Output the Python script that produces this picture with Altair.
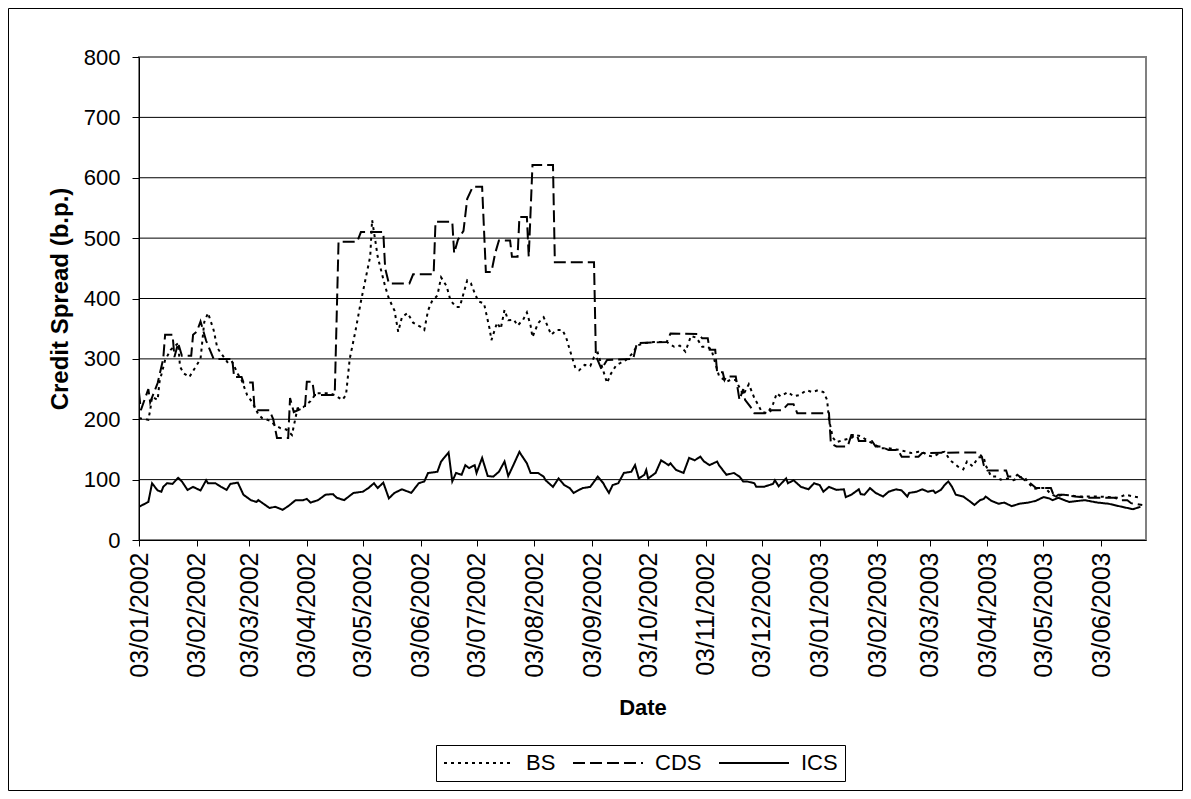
import altair as alt
import pandas as pd

# ---------------- data ----------------
series_names = ["BS", "CDS", "ICS"]

bs_dates = [
    "2002-01-03", "2002-01-08", "2002-01-09", "2002-01-10", "2002-01-13", "2002-01-14", "2002-01-17", "2002-01-20", "2002-01-24", "2002-01-25",
    "2002-01-27", "2002-01-30", "2002-02-03", "2002-02-05", "2002-02-07", "2002-02-09", "2002-02-12", "2002-02-14", "2002-02-17", "2002-02-20",
    "2002-02-22", "2002-02-25", "2002-02-27", "2002-03-02", "2002-03-05", "2002-03-08", "2002-03-10", "2002-03-14", "2002-03-17", "2002-03-20",
    "2002-03-23", "2002-03-26", "2002-03-29", "2002-04-01", "2002-04-05", "2002-04-08", "2002-04-15", "2002-04-18", "2002-04-22", "2002-04-24",
    "2002-04-26", "2002-04-29", "2002-05-02", "2002-05-05", "2002-05-07", "2002-05-08", "2002-05-10", "2002-05-11", "2002-05-15", "2002-05-17",
    "2002-05-20", "2002-05-22", "2002-05-24", "2002-05-27", "2002-05-30", "2002-06-03", "2002-06-05", "2002-06-07", "2002-06-09", "2002-06-12",
    "2002-06-14", "2002-06-17", "2002-06-19", "2002-06-22", "2002-06-24", "2002-06-28", "2002-06-30", "2002-07-02", "2002-07-04", "2002-07-07",
    "2002-07-10", "2002-07-11", "2002-07-14", "2002-07-16", "2002-07-18", "2002-07-20", "2002-07-23", "2002-07-25", "2002-07-28", "2002-07-30",
    "2002-08-01", "2002-08-02", "2002-08-05", "2002-08-08", "2002-08-10", "2002-08-12", "2002-08-15", "2002-08-18", "2002-08-20", "2002-08-22",
    "2002-08-25", "2002-08-27", "2002-08-30", "2002-09-02", "2002-09-04", "2002-09-06", "2002-09-08", "2002-09-11", "2002-09-13", "2002-09-16",
    "2002-09-18", "2002-09-21", "2002-09-25", "2002-09-27", "2002-10-01", "2002-10-06", "2002-10-13", "2002-10-17", "2002-10-20", "2002-10-23",
    "2002-10-26", "2002-10-29", "2002-11-01", "2002-11-04", "2002-11-06", "2002-11-08", "2002-11-10", "2002-11-14", "2002-11-16", "2002-11-19",
    "2002-11-23", "2002-11-26", "2002-11-29", "2002-12-01", "2002-12-03", "2002-12-06", "2002-12-09", "2002-12-11", "2002-12-13", "2002-12-17",
    "2002-12-20", "2002-12-23", "2002-12-27", "2002-12-30", "2003-01-02", "2003-01-05", "2003-01-07", "2003-01-08", "2003-01-10", "2003-01-12",
    "2003-01-15", "2003-01-20", "2003-01-22", "2003-01-25", "2003-01-28", "2003-02-02", "2003-02-05", "2003-02-09", "2003-02-13", "2003-02-15",
    "2003-02-19", "2003-02-21", "2003-02-25", "2003-02-27", "2003-03-02", "2003-03-05", "2003-03-09", "2003-03-11", "2003-03-14", "2003-03-18",
    "2003-03-21", "2003-03-23", "2003-03-26", "2003-03-29", "2003-04-01", "2003-04-02", "2003-04-05", "2003-04-08", "2003-04-10", "2003-04-14",
    "2003-04-17", "2003-04-20", "2003-04-23", "2003-04-25", "2003-04-28", "2003-05-02", "2003-05-04", "2003-05-07", "2003-05-10", "2003-05-13",
    "2003-05-17", "2003-05-22", "2003-05-31", "2003-06-08", "2003-06-12", "2003-06-16", "2003-06-19", "2003-06-24",
]
bs_values = [
    202, 199, 215, 237, 232, 262, 298, 315, 326, 287,
    276, 270, 290, 300, 361, 376, 348, 318, 305, 292,
    295, 275, 265, 240, 227, 208, 202, 198, 190, 185,
    183, 174, 218, 220, 230, 243, 243, 240, 232, 240,
    300, 345, 395, 440, 470, 530, 490, 469, 420, 400,
    380, 345, 369, 376, 360, 353, 348, 380, 395, 405,
    435, 420, 397, 386, 386, 430, 425, 409, 395, 392,
    350, 331, 360, 350, 381, 364, 365, 355, 365, 377,
    355, 336, 359, 369, 355, 340, 348, 348, 336, 315,
    285, 281, 290, 288, 303, 310, 290, 260, 275, 290,
    293, 298, 310, 322, 326, 328, 328, 320, 322, 312,
    338, 335, 320, 320, 315, 293, 272, 262, 265, 265,
    240, 258, 235, 224, 212, 210, 225, 243, 238, 245,
    238, 240, 248, 245, 248, 245, 232, 200, 170, 162,
    165, 169, 174, 172, 166, 157, 152, 152, 150, 149,
    146, 144, 146, 146, 140, 138, 145, 146, 132, 122,
    117, 130, 122, 137, 137, 124, 105, 105, 100, 102,
    99, 104, 104, 94, 85, 86, 86, 76, 72, 75,
    74, 72, 72, 71, 70, 75, 73, 70,
]

cds_dates = [
    "2002-01-03", "2002-01-04", "2002-01-08", "2002-01-09", "2002-01-13", "2002-01-16", "2002-01-17", "2002-01-21", "2002-01-22", "2002-01-24",
    "2002-01-26", "2002-01-31", "2002-02-01", "2002-02-03", "2002-02-05", "2002-02-08", "2002-02-12", "2002-02-22", "2002-02-23", "2002-02-27",
    "2002-02-28", "2002-03-05", "2002-03-06", "2002-03-14", "2002-03-16", "2002-03-18", "2002-03-24", "2002-03-25", "2002-03-27", "2002-04-02",
    "2002-04-03", "2002-04-06", "2002-04-07", "2002-04-17", "2002-04-18", "2002-04-20", "2002-04-30", "2002-05-02", "2002-05-14", "2002-05-15",
    "2002-05-17", "2002-05-28", "2002-05-30", "2002-06-10", "2002-06-11", "2002-06-20", "2002-06-21", "2002-06-23", "2002-06-26", "2002-06-28",
    "2002-07-01", "2002-07-06", "2002-07-08", "2002-07-11", "2002-07-13", "2002-07-15", "2002-07-21", "2002-07-22", "2002-07-25", "2002-07-26",
    "2002-07-30", "2002-07-31", "2002-08-02", "2002-08-13", "2002-08-14", "2002-09-04", "2002-09-05", "2002-09-08", "2002-09-11", "2002-09-25",
    "2002-09-27", "2002-10-13", "2002-10-15", "2002-10-30", "2002-11-01", "2002-11-04", "2002-11-05", "2002-11-08", "2002-11-09", "2002-11-12",
    "2002-11-13", "2002-11-14", "2002-11-19", "2002-11-21", "2002-11-23", "2002-11-24", "2002-11-27", "2002-11-29", "2002-12-07", "2002-12-08",
    "2002-12-14", "2002-12-17", "2002-12-20", "2002-12-22", "2003-01-08", "2003-01-09", "2003-01-12", "2003-01-18", "2003-01-20", "2003-01-23",
    "2003-01-24", "2003-01-31", "2003-02-02", "2003-02-05", "2003-02-09", "2003-02-14", "2003-02-16", "2003-02-25", "2003-02-27", "2003-03-21",
    "2003-03-29", "2003-03-31", "2003-04-01", "2003-04-03", "2003-04-13", "2003-04-14", "2003-04-18", "2003-04-19", "2003-04-23", "2003-04-26",
    "2003-04-29", "2003-05-07", "2003-05-09", "2003-05-11", "2003-05-14", "2003-05-20", "2003-05-27", "2003-06-10", "2003-06-14", "2003-06-17",
    "2003-06-19", "2003-06-25",
]
cds_values = [
    245, 215, 250, 228, 260, 300, 340, 340, 303, 326,
    305, 305, 340, 345, 362, 330, 300, 300, 270, 270,
    261, 261, 215, 215, 200, 169, 169, 235, 212, 220,
    262, 262, 240, 240, 245, 494, 494, 510, 510, 450,
    425, 425, 440, 440, 527, 527, 475, 497, 512, 565,
    585, 585, 444, 444, 475, 496, 496, 469, 469, 535,
    535, 469, 621, 621, 460, 460, 305, 283, 298, 300,
    326, 328, 342, 341, 334, 334, 315, 315, 278, 278,
    265, 271, 271, 232, 250, 232, 220, 210, 210, 215,
    215, 225, 225, 210, 210, 160, 155, 155, 174, 174,
    164, 164, 155, 155, 149, 149, 138, 138, 144, 145,
    145, 138, 124, 115, 115, 105, 105, 108, 99, 94,
    86, 86, 70, 75, 75, 72, 70, 70, 66, 66,
    61, 58,
]

ics_dates = [
    "2002-01-03", "2002-01-08", "2002-01-10", "2002-01-13", "2002-01-15", "2002-01-16", "2002-01-18", "2002-01-21", "2002-01-24", "2002-01-26",
    "2002-01-29", "2002-02-01", "2002-02-05", "2002-02-08", "2002-02-09", "2002-02-13", "2002-02-16", "2002-02-19", "2002-02-21", "2002-02-25",
    "2002-02-28", "2002-03-04", "2002-03-07", "2002-03-08", "2002-03-14", "2002-03-17", "2002-03-21", "2002-03-24", "2002-03-28", "2002-04-01",
    "2002-04-03", "2002-04-05", "2002-04-09", "2002-04-13", "2002-04-17", "2002-04-19", "2002-04-23", "2002-04-28", "2002-05-03", "2002-05-06",
    "2002-05-09", "2002-05-11", "2002-05-14", "2002-05-17", "2002-05-20", "2002-05-24", "2002-05-29", "2002-06-02", "2002-06-05", "2002-06-07",
    "2002-06-12", "2002-06-14", "2002-06-18", "2002-06-20", "2002-06-22", "2002-06-25", "2002-06-27", "2002-06-29", "2002-07-02", "2002-07-03",
    "2002-07-06", "2002-07-09", "2002-07-12", "2002-07-15", "2002-07-18", "2002-07-20", "2002-07-22", "2002-07-26", "2002-07-27", "2002-07-30",
    "2002-08-01", "2002-08-05", "2002-08-08", "2002-08-09", "2002-08-13", "2002-08-16", "2002-08-19", "2002-08-22", "2002-08-24", "2002-08-27",
    "2002-08-29", "2002-09-02", "2002-09-06", "2002-09-09", "2002-09-10", "2002-09-12", "2002-09-14", "2002-09-17", "2002-09-20", "2002-09-24",
    "2002-09-26", "2002-09-28", "2002-10-01", "2002-10-02", "2002-10-03", "2002-10-07", "2002-10-10", "2002-10-14", "2002-10-15", "2002-10-18",
    "2002-10-22", "2002-10-25", "2002-10-28", "2002-10-31", "2002-11-02", "2002-11-05", "2002-11-09", "2002-11-10", "2002-11-14", "2002-11-18",
    "2002-11-21", "2002-11-23", "2002-11-25", "2002-11-29", "2002-11-30", "2002-12-04", "2002-12-09", "2002-12-10", "2002-12-12", "2002-12-16",
    "2002-12-17", "2002-12-20", "2002-12-24", "2002-12-28", "2002-12-31", "2003-01-03", "2003-01-05", "2003-01-08", "2003-01-12", "2003-01-16",
    "2003-01-17", "2003-01-20", "2003-01-24", "2003-01-25", "2003-01-27", "2003-01-30", "2003-02-02", "2003-02-06", "2003-02-09", "2003-02-13",
    "2003-02-16", "2003-02-19", "2003-02-20", "2003-02-24", "2003-02-27", "2003-03-02", "2003-03-05", "2003-03-06", "2003-03-09", "2003-03-11",
    "2003-03-13", "2003-03-15", "2003-03-17", "2003-03-21", "2003-03-25", "2003-03-27", "2003-03-30", "2003-04-01", "2003-04-02", "2003-04-05",
    "2003-04-09", "2003-04-12", "2003-04-16", "2003-04-20", "2003-04-25", "2003-04-29", "2003-05-03", "2003-05-06", "2003-05-08", "2003-05-11",
    "2003-05-15", "2003-05-17", "2003-05-25", "2003-06-01", "2003-06-07", "2003-06-14", "2003-06-20", "2003-06-24",
]
ics_values = [
    55, 63, 94, 82, 80, 88, 94, 93, 103, 97,
    83, 88, 82, 99, 94, 94, 88, 83, 93, 95,
    75, 66, 63, 66, 53, 55, 50, 56, 66, 66,
    68, 62, 66, 75, 76, 70, 66, 78, 80, 86,
    94, 86, 95, 69, 78, 84, 78, 94, 97, 111,
    113, 130, 145, 97, 111, 108, 124, 119, 124, 111,
    136, 106, 105, 113, 130, 106, 119, 146, 141, 127,
    111, 111, 105, 99, 88, 102, 91, 86, 78, 83,
    86, 88, 105, 94, 88, 78, 91, 94, 111, 113,
    124, 102, 108, 116, 102, 111, 132, 124, 127, 116,
    111, 136, 132, 138, 130, 124, 130, 124, 108, 111,
    105, 97, 97, 94, 88, 88, 93, 99, 89, 102,
    94, 99, 88, 84, 94, 91, 80, 88, 83, 84,
    71, 75, 84, 76, 75, 86, 78, 72, 80, 84,
    82, 72, 78, 80, 84, 80, 82, 78, 83, 91,
    97, 88, 75, 72, 63, 58, 66, 68, 72, 65,
    60, 62, 56, 60, 62, 65, 71, 69, 66, 70,
    65, 63, 66, 62, 60, 55, 51, 55,
]

tick_dates = [
    "2002-01-03", "2002-02-03", "2002-03-03", "2002-04-03", "2002-05-03", "2002-06-03",
    "2002-07-03", "2002-08-03", "2002-09-03", "2002-10-03", "2002-11-03", "2002-12-03",
    "2003-01-03", "2003-02-03", "2003-03-03", "2003-04-03", "2003-05-03", "2003-06-03",
]
x_domain = ["2002-01-03", "2003-06-27"]
y_ticks = [0, 100, 200, 300, 400, 500, 600, 700, 800]
y_grid = [100, 200, 300, 400, 500, 600, 700]

# ---------------- build table ----------------
frames = []
for name, d, v in zip(series_names, [bs_dates, cds_dates, ics_dates], [bs_values, cds_values, ics_values]):
    assert len(d) == len(v), (name, len(d), len(v))
    frames.append(pd.DataFrame({"date": pd.to_datetime(d), "value": v, "series": name}))
df = pd.concat(frames, ignore_index=True)
grid_df = pd.DataFrame({"value": y_grid})


def dt(s):
    y, m, dd = (int(p) for p in s.split("-"))
    return alt.DateTime(year=y, month=m, date=dd)


FONT = "Liberation Sans"
PW, PH = 1007, 483
PAD = {"left": 131, "top": 49, "right": 37, "bottom": 251}
y_scale = alt.Scale(domain=[0, 800], nice=False)

y_axis = alt.Axis(
    values=y_ticks,
    labelFontSize=22,
    labelFont=FONT,
    labelColor="black",
    labelPadding=12,
    tickSize=7,
    tickColor="black",
    domainColor="black",
    grid=False,
    title="Credit Spread (b.p.)",
    titleFont=FONT,
    titleFontSize=24,
    titleFontWeight="bold",
    titleColor="black",
    titleAngle=270,
    titleBaseline="alphabetic",
    titleX=-72,
)

grid = alt.Chart(grid_df).mark_rule(color="black", strokeWidth=1).encode(
    y=alt.Y("value:Q", scale=y_scale, axis=y_axis),
)

lines = alt.Chart(df).mark_line(color="black", strokeWidth=2, clip=True).encode(
    x=alt.X(
        "date:T",
        scale=alt.Scale(domain=[dt(s) for s in x_domain]),
        axis=alt.Axis(
            values=[dt(s) for s in tick_dates],
            format="%d/%m/%Y",
            labelAngle=270,
            labelFontSize=25,
            labelFont=FONT,
            labelColor="black",
            labelPadding=6,
            labelFlush=False,
            labelOverlap=False,
            tickSize=6,
            tickColor="black",
            domainColor="black",
            grid=False,
            title="Date",
            titleFont=FONT,
            titleFontSize=22,
            titleFontWeight="bold",
            titleColor="black",
            titleBaseline="alphabetic",
            titleY=174,
        ),
    ),
    y=alt.Y("value:Q", scale=y_scale, axis=y_axis),
    strokeDash=alt.StrokeDash(
        "series:N",
        scale=alt.Scale(domain=series_names, range=[[3, 4], [12, 5], [1, 0]]),
        legend=alt.Legend(
            title=None,
            orient="none",
            legendX=297,
            legendY=688,
            direction="horizontal",
            symbolType="M-1,0L6,0",
            symbolSize=400,
            symbolStrokeWidth=2,
            symbolStrokeColor="black",
            labelFont=FONT,
            labelFontSize=22,
            labelColor="black",
            labelOffset=61,
            columnPadding=13,
            padding=7,
            strokeColor="black",
            fillColor="white",
        ),
    ),
)

frame_df = pd.DataFrame({"k": [0]})
border = alt.Chart(frame_df).mark_rect(filled=False, stroke="black", strokeWidth=1).encode(
    x=alt.value(-PAD["left"] + 0.5),
    x2=alt.value(PW + PAD["right"] - 0.5),
    y=alt.value(-PAD["top"] + 0.5),
    y2=alt.value(PH + PAD["bottom"] - 0.5),
)

chart = alt.layer(border, grid, lines).properties(
    width=PW,
    height=PH,
    padding=PAD,
    autosize=alt.AutoSizeParams(type="none"),
    background="white",
).configure_view(stroke="#808080", strokeWidth=2)

chart.save("out.html", embed_options={"renderer": "svg", "actions": False})
